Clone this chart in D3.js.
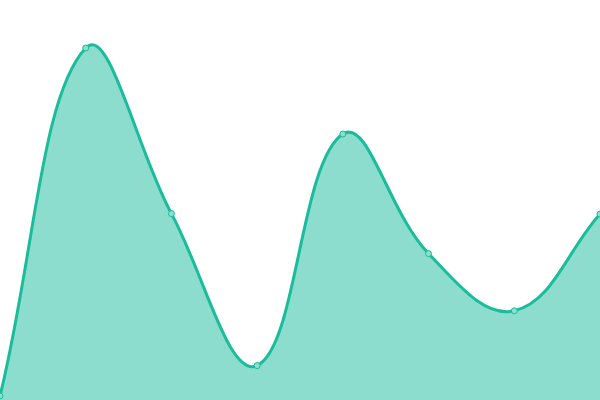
<!DOCTYPE html>
<html>
<head>
<meta charset="utf-8">
<script src="https://cdn.jsdelivr.net/npm/d3@7"></script>
<style>
html,body{margin:0;padding:0;background:#fff;}
svg{display:block;}
</style>
</head>
<body>
<svg id="chart" width="600" height="400"></svg>
<script>
const categories = ["A","B","C","D","E","F","G","H"];
const values = [1, 88, 46.6, 8.6, 66.5, 36.6, 22.3, 46.5];
const yDomain = [0, 100];

const W = 600, H = 400;
const x = d3.scalePoint().domain(categories).range([0, W]);
const y = d3.scaleLinear().domain(yDomain).range([H, 0]);

// Custom curve reproducing a distance-weighted spline with tension 0.4
function SplineCurve(context, tension) {
  this._context = context;
  this._t = tension;
}
SplineCurve.prototype = {
  areaStart() { this._line = 0; },
  areaEnd() { this._line = NaN; },
  lineStart() { this._pts = []; },
  point(px, py) { this._pts.push([+px, +py]); },
  lineEnd() {
    const p = this._pts, n = p.length, c = this._context, t = this._t;
    if (n) {
      if (this._line) c.lineTo(p[0][0], p[0][1]); else c.moveTo(p[0][0], p[0][1]);
      const cp = p.map((cur, i) => {
        const prev = p[Math.max(0, i - 1)], next = p[Math.min(n - 1, i + 1)];
        const d01 = Math.hypot(cur[0] - prev[0], cur[1] - prev[1]);
        const d12 = Math.hypot(next[0] - cur[0], next[1] - cur[1]);
        let s01 = d01 / (d01 + d12), s12 = d12 / (d01 + d12);
        if (!isFinite(s01)) s01 = 0;
        if (!isFinite(s12)) s12 = 0;
        const fa = t * s01, fb = t * s12;
        const clampX = v => Math.max(0, Math.min(W, v));
        const clampY = v => Math.max(0, Math.min(H, v));
        return {
          pxp: clampX(cur[0] - fa * (next[0] - prev[0])),
          pyp: clampY(cur[1] - fa * (next[1] - prev[1])),
          nxp: clampX(cur[0] + fb * (next[0] - prev[0])),
          nyp: clampY(cur[1] + fb * (next[1] - prev[1]))
        };
      });
      for (let i = 1; i < n; i++) {
        c.bezierCurveTo(cp[i-1].nxp, cp[i-1].nyp, cp[i].pxp, cp[i].pyp, p[i][0], p[i][1]);
      }
    }
    if (this._line || (this._line !== 0 && n === 1)) c.closePath();
    this._line = 1 - this._line;
  }
};
const spline = ctx => new SplineCurve(ctx, 0.4);

const data = categories.map((c, i) => ({c, v: values[i]}));
const svg = d3.select("#chart");

const area = d3.area()
  .x(d => x(d.c))
  .y0(y(yDomain[0]))
  .y1(d => y(d.v))
  .curve(spline);

const line = d3.line()
  .x(d => x(d.c))
  .y(d => y(d.v))
  .curve(spline);

svg.append("path")
  .datum(data)
  .attr("d", area)
  .attr("fill", "rgba(26,188,156,0.5)");

svg.append("path")
  .datum(data)
  .attr("d", line)
  .attr("fill", "none")
  .attr("stroke", "#1abc9c")
  .attr("stroke-width", 3)
  .attr("stroke-linejoin", "round");

svg.selectAll("circle.pt")
  .data(data)
  .enter().append("circle")
  .attr("class", "pt")
  .attr("cx", d => x(d.c))
  .attr("cy", d => y(d.v))
  .attr("r", 3)
  .attr("fill", "rgba(140,222,206,1)")
  .attr("stroke", "#1abc9c")
  .attr("stroke-width", 1);
</script>
</body>
</html>
